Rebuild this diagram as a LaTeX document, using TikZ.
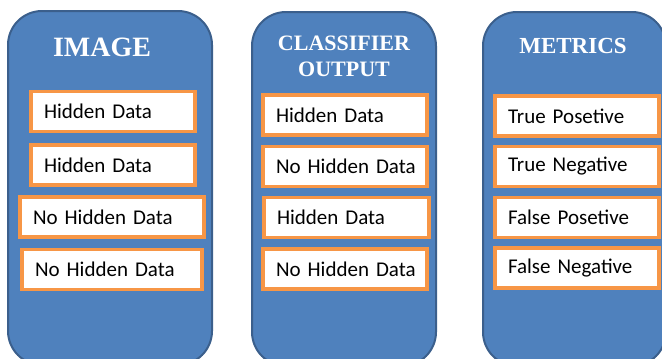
\documentclass[tikz,border=0pt]{standalone}
\usepackage{fontspec}
\setmainfont{Liberation Serif}
\newfontfamily\boxfont{Carlito}
\usepackage{tikz}
\usetikzlibrary{positioning}
\definecolor{panelblue}{HTML}{4F81BD}
\definecolor{paneledge}{HTML}{3B5F8C}
\definecolor{boxorange}{HTML}{F79646}

\begin{document}
\begin{tikzpicture}[x=1pt,y=-1pt,
	panel/.style={rectangle,rounded corners=34pt,fill=panelblue,draw=paneledge,line width=2pt,minimum height=354pt},
	title/.style={text=white,font=\fontsize{23}{26}\selectfont\bfseries,align=center},
	data box/.style={rectangle,fill=white,draw=boxorange,line width=3.5pt,minimum height=40pt,inner xsep=13pt,text width=138pt,align=left,font=\boxfont\fontsize{21}{24}\selectfont}]

	\useasboundingbox (0,0) rectangle (662,359);

	\node[panel,minimum width=204pt] (image) at (110,188) {};
	\node[panel,minimum width=184pt] (classifier) at (344,189) {};
	\node[panel,minimum width=183pt] (metrics) at (574.5,189) {};

	\node[title,font=\fontsize{28}{30}\selectfont\bfseries] (imagetitle) at (102,47) {IMAGE};
	\node[title,font=\fontsize{22}{26}\selectfont\bfseries] (classifiertitle) at (344,56) {CLASSIFIER\\OUTPUT};
	\node[title] (metricstitle) at (573,46) {METRICS};

	\node[data box] (i1) at (113,111.5) {Hidden Data};
	\node[data box] (i2) at (113,165) {Hidden Data};
	\node[data box,text width=158pt] (i3) at (112,217) {No Hidden Data};
	\node[data box,text width=154pt] (i4) at (112,269.5) {No Hidden Data};

	\node[data box] (c1) at (345,115) {Hidden Data};
	\node[data box] (c2) at (345,166.5) {\mbox{No Hidden Data}};
	\node[data box,text width=139pt] (c3) at (346.5,217.5) {Hidden Data};
	\node[data box] (c4) at (345,269) {\mbox{No Hidden Data}};

	\node[data box] (m1) at (577,116) {True Posetive};
	\node[data box] (m2) at (577,166.5) {True Negative};
	\node[data box] (m3) at (577,217.5) {False Posetive};
	\node[data box] (m4) at (577,268) {False Negative};

\end{tikzpicture}
\end{document}
